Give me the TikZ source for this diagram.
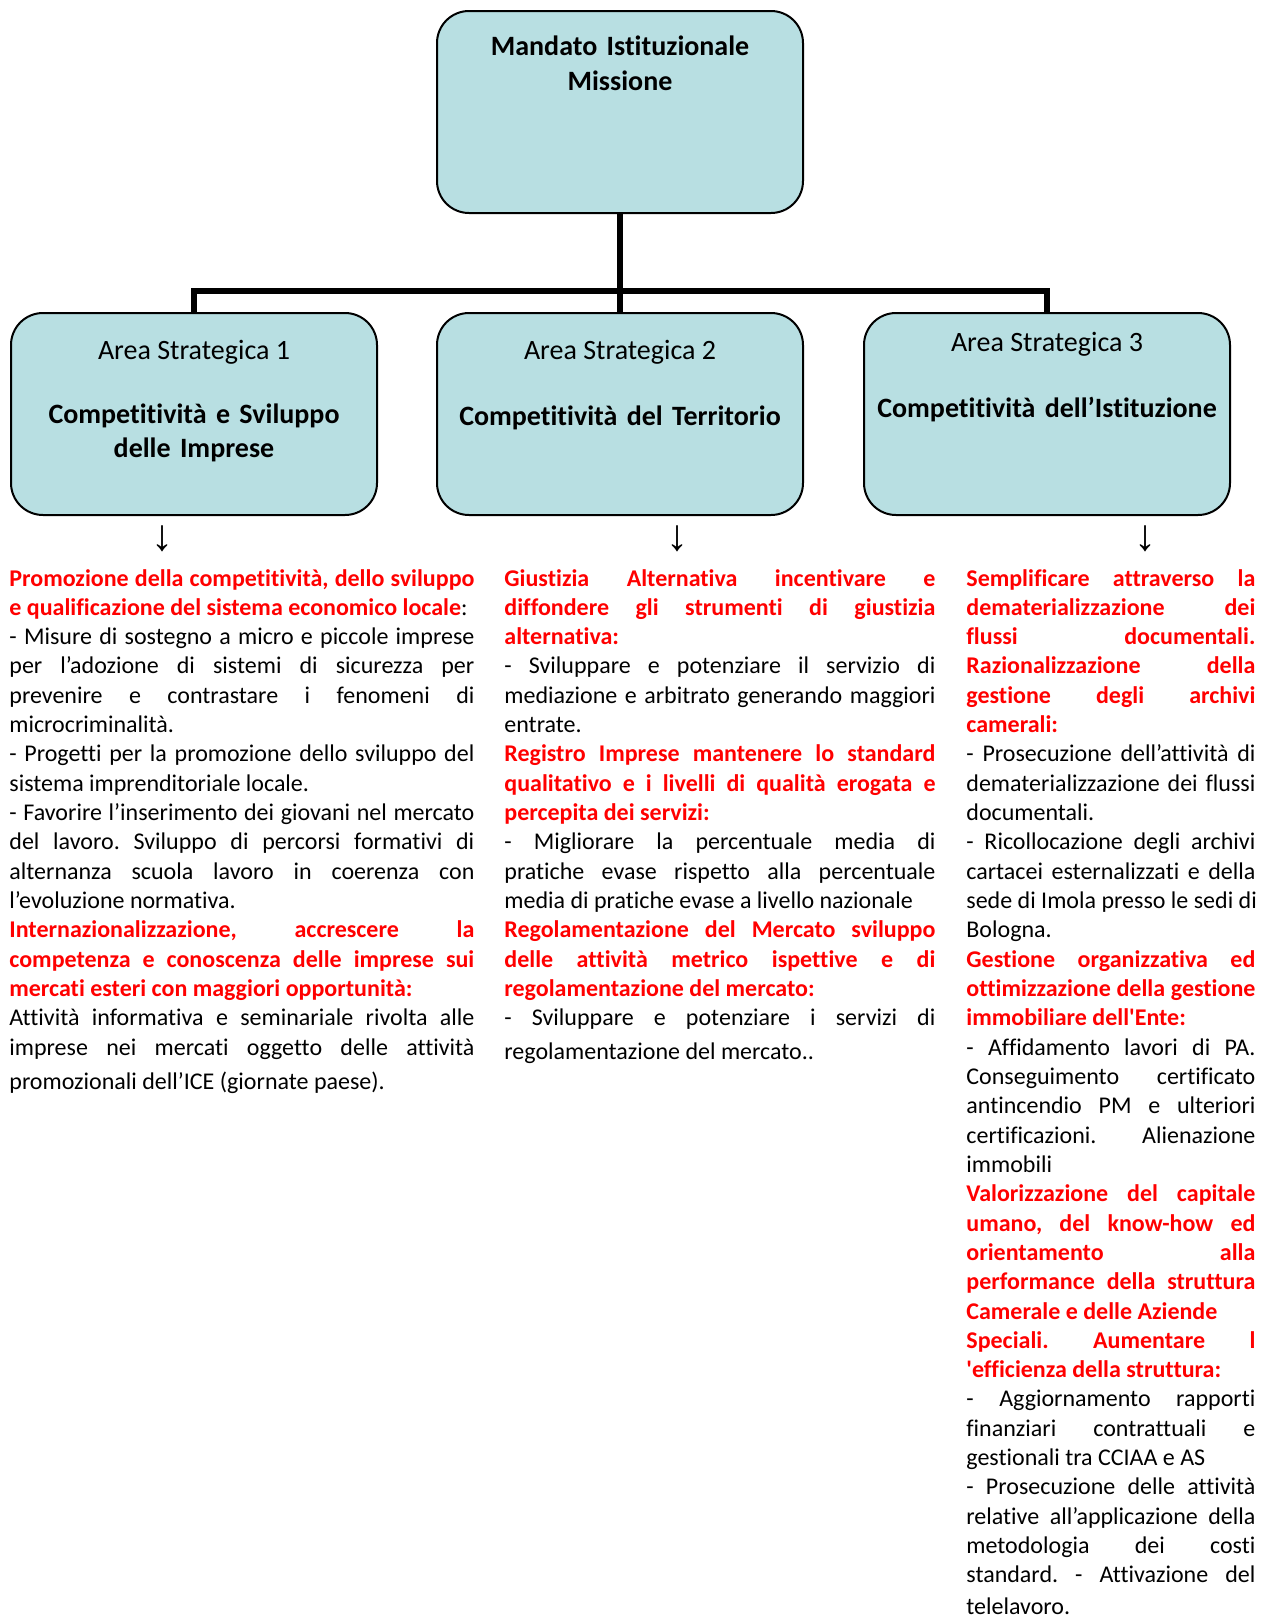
\documentclass[tikz,border=0pt]{standalone}
\usepackage{fontspec}
\setmainfont{Carlito}[Ligatures={TeX,CommonOff}]
\newfontfamily\arrowfont{Liberation Sans}

\definecolor{boxfill}{RGB}{184,223,226}
\definecolor{goalred}{RGB}{255,0,0}

% one justified line / one last line of a paragraph
\newlength{\colw}
\newcommand{\wordspace}{\spaceskip 0.226em\relax}
\newcommand{\jline}[1]{\hbox to \colw{\spaceskip 0.226em plus 1fil\relax #1}}
\newcommand{\lline}[1]{\hbox to \colw{\wordspace #1\hfil}}
\newcommand{\goal}[1]{{\color{goalred}\bfseries #1}}

\tikzset{
  areabox/.style={draw=black, line width=1pt, fill=boxfill, rounded corners=16pt,
    minimum width=183pt, minimum height=101pt, inner sep=0pt},
  tree/.style={line width=3.4pt},
  boxhead/.style={anchor=base, inner sep=0pt,
    font=\fontsize{14pt}{17pt}\selectfont\wordspace},
  boxname/.style={anchor=base, inner sep=0pt, align=center, text width=180pt,
    font=\fontsize{14pt}{17pt}\selectfont\bfseries\wordspace},
  coltext/.style={anchor=base west, inner sep=0pt,
    font=\fontsize{12pt}{14.66pt}\selectfont\frenchspacing},
  downarrow/.style={inner sep=0pt, font=\arrowfont\fontsize{22pt}{22pt}\selectfont},
}

\begin{document}
\begin{tikzpicture}[x=0.5pt, y=-0.5pt]
  \useasboundingbox (0,0) rectangle (1261,1617);

  % boxes
  \node[areabox] (mandato) at (620,112) {};
  \node[areabox] (area1) at (194,414) {};
  \node[areabox] (area2) at (620,414) {};
  \node[areabox] (area3) at (1047,414) {};

  \coordinate (hub) at (620,291);
  \draw[tree] (mandato.south) -- (area2.north);
  \draw[tree] (area1.north) |- (hub) -| (area3.north);

  \node[boxname, font=\fontsize{14pt}{17.5pt}\selectfont\bfseries\wordspace] (mandatotxt) at (620,55) {Mandato Istituzionale\\Missione};

  \node[boxhead] (head1) at (194,359) {Area Strategica 1};
  \node[boxhead] (head2) at (620,359) {Area Strategica 2};
  \node[boxhead] (head3) at (1047,351) {Area Strategica 3};

  \node[boxname] (name1) at (194,423) {Competitività e Sviluppo\\delle Imprese};
  \node[boxname] (name2) at (620,425) {Competitività del Territorio};
  \node[boxname, text width=200pt] (name3) at (1047,417) {Competitività dell’Istituzione};

  \node[downarrow] (arrow1) at (162,539) {↓};
  \node[downarrow] (arrow2) at (677,539) {↓};
  \node[downarrow] (arrow3) at (1145,539) {↓};

  % objectives
  \setlength{\colw}{232.5pt}
  \node[coltext, text width=\colw] (goals1) at (9,586) {%
    \jline{\goal{Promozione della competitività, dello sviluppo}}
    \lline{\goal{e qualificazione del sistema economico locale}:}
    \jline{- Misure di sostegno a micro e piccole imprese}
    \jline{per l’adozione di sistemi di sicurezza per}
    \jline{prevenire e contrastare i fenomeni di}
    \lline{microcriminalità.}
    \jline{- Progetti per la promozione dello sviluppo del}
    \lline{sistema imprenditoriale locale.}
    \jline{- Favorire l’inserimento dei giovani nel mercato}
    \jline{del lavoro. Sviluppo di percorsi formativi di}
    \jline{alternanza scuola lavoro in coerenza con}
    \lline{l’evoluzione normativa.}
    \jline{\goal{Internazionalizzazione, accrescere la}}
    \jline{\goal{competenza e conoscenza delle imprese sui}}
    \lline{\goal{mercati esteri con maggiori opportunità:}}
    \jline{Attività informativa e seminariale rivolta alle}
    \jline{imprese nei mercati oggetto delle attività}\par
    \kern2.6pt
    \lline{promozionali dell’ICE (giornate paese).}};

  \setlength{\colw}{215.5pt}
  \node[coltext, text width=\colw] (goals2) at (504,586) {%
    \jline{\goal{Giustizia Alternativa incentivare e}}
    \jline{\goal{diffondere gli strumenti di giustizia}}
    \lline{\goal{alternativa:}}
    \jline{- Sviluppare e potenziare il servizio di}
    \jline{mediazione e arbitrato generando maggiori}
    \lline{entrate.}
    \jline{\goal{Registro Imprese mantenere lo standard}}
    \jline{\goal{qualitativo e i livelli di qualità erogata e}}
    \lline{\goal{percepita dei servizi:}}
    \jline{- Migliorare la percentuale media di}
    \jline{pratiche evase rispetto alla percentuale}
    \lline{media di pratiche evase a livello nazionale}
    \jline{\goal{Regolamentazione del Mercato sviluppo}}
    \jline{\goal{delle attività metrico ispettive e di}}
    \lline{\goal{regolamentazione del mercato:}}
    \jline{- Sviluppare e potenziare i servizi di}\par
    \kern2pt
    \lline{regolamentazione del mercato..}};

  \setlength{\colw}{144.5pt}
  \node[coltext, text width=\colw] (goals3) at (966,586) {%
    \jline{\goal{Semplificare attraverso la}}
    \jline{\goal{dematerializzazione dei}}
    \jline{\goal{flussi documentali.}}
    \jline{\goal{Razionalizzazione della}}
    \jline{\goal{gestione degli archivi}}
    \lline{\goal{camerali:}}
    \jline{- Prosecuzione dell’attività di}
    \jline{dematerializzazione dei flussi}
    \lline{documentali.}
    \jline{- Ricollocazione degli archivi}
    \jline{cartacei esternalizzati e della}
    \jline{sede di Imola presso le sedi di}
    \lline{Bologna.}
    \jline{\goal{Gestione organizzativa ed}}
    \jline{\goal{ottimizzazione della gestione}}
    \lline{\goal{immobiliare dell\textquotesingle Ente:}}
    \jline{- Affidamento lavori di PA.}
    \jline{Conseguimento certificato}
    \jline{antincendio PM e ulteriori}
    \jline{certificazioni. Alienazione}
    \lline{immobili}
    \jline{\goal{Valorizzazione del capitale}}
    \jline{\goal{umano, del know-how ed}}
    \jline{\goal{orientamento alla}}
    \jline{\goal{performance della struttura}}
    \lline{\goal{Camerale e delle Aziende}}
    \jline{\goal{Speciali. Aumentare l}}
    \lline{\goal{\textquotesingle efficienza della struttura:}}
    \jline{- Aggiornamento rapporti}
    \jline{finanziari contrattuali e}
    \lline{gestionali tra CCIAA e AS}
    \jline{- Prosecuzione delle attività}
    \jline{relative all’applicazione della}
    \jline{metodologia dei costi}
    \jline{standard. - Attivazione del}\par
    \kern1pt
    \lline{telelavoro.}};
\end{tikzpicture}
\end{document}
